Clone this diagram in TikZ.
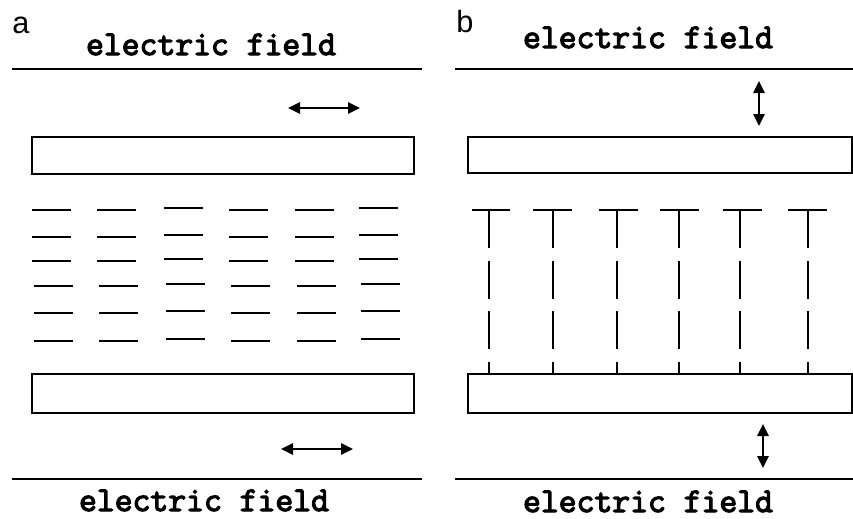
\documentclass[tikz,border=0pt]{standalone}
\usepackage{fontspec}
\setmainfont{Liberation Sans}
\newfontfamily\fieldfont{Latin Modern Mono}[FakeBold=3.5]
\usepackage{tikz}
\usetikzlibrary{arrows.meta,positioning}

\begin{document}
\begin{tikzpicture}[
  x=0.75pt, y=-0.75pt,
  panel/.style={font=\fontsize{23}{26}\selectfont, anchor=base west, inner sep=0pt},
  fieldlabel/.style={font=\fieldfont\fontsize{26}{28}\selectfont, anchor=base, inner sep=0pt},
  electrode/.style={line width=1.5pt},
  plate/.style={draw, line width=1.5pt},
  molecule/.style={line width=1.5pt},
  dashstem/.style={line width=1.5pt, dash pattern=on 28.5pt off 9.5pt},
  motion/.style={{Triangle[length=9pt,width=8.5pt]}-{Triangle[length=9pt,width=8.5pt]}, line width=1.4pt}
]
\useasboundingbox (0,0) rectangle (853,518);

% ---- Panel a ----
\node[panel] (la) at (12,33) {a};
\node[fieldlabel] (fieldAtop) at (211,55) {electric field};
\draw[electrode] (12,69) coordinate (eAtl) -- (422,69) coordinate (eAtr);
\coordinate (mAtl) at (288,108);
\coordinate (mAtr) at (360,108);
\draw[motion] (mAtl) -- (mAtr);
\draw[plate] (32,137) rectangle (414,174);

% flat lying molecules
\foreach \x/\dy in {32/0, 97/0, 164/-2, 229/0, 295/0, 359/-2} {
  \foreach \y/\dx in {210/0, 237/0, 261/0, 286/2, 313/2, 341/2} {
    \draw[molecule] (\x+\dx,\y+\dy) -- (\x+\dx+39,\y+\dy);
  }
}

\draw[plate] (32,374) rectangle (414,413);
\coordinate (mAbl) at (281,449);
\coordinate (mAbr) at (353,449);
\draw[motion] (mAbl) -- (mAbr);
\draw[electrode] (12,479) -- (422,479);
\node[fieldlabel] (fieldAbot) at (204,511) {electric field};

% ---- Panel b ----
\node[panel] (lb) at (456,32) {b};
\node[fieldlabel] (fieldBtop) at (648,48) {electric field};
\draw[electrode] (455,69) -- (853,69);
\coordinate (mBtt) at (759,81);
\coordinate (mBtb) at (759,126);
\draw[motion] (mBtt) -- (mBtb);
\draw[plate] (468,137) rectangle (852,173);

% standing molecules
\foreach \s/\a/\b in {489/472/510, 553/533/572, 617/599/638, 679/660/699, 740/723/762, 808/788/827} {
  \draw[molecule] (\a,210) -- (\b,210);
  \draw[dashstem] (\s,210) -- (\s,375);
}

\draw[plate] (468,374) rectangle (852,413);
\coordinate (mBbt) at (763,424);
\coordinate (mBbb) at (763,468);
\draw[motion] (mBbt) -- (mBbb);
\draw[electrode] (455,479) -- (853,479);
\node[fieldlabel] (fieldBbot) at (648,512) {electric field};

\end{tikzpicture}
\end{document}
